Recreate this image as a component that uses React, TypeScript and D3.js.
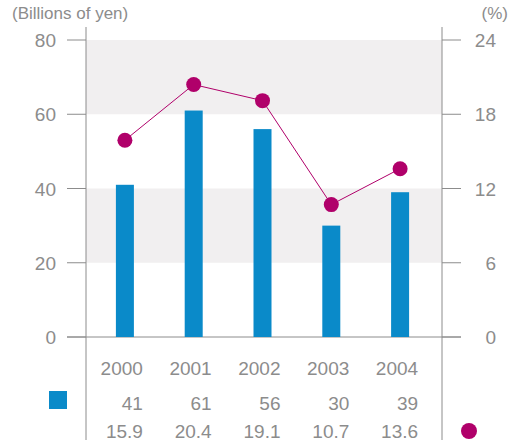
import React from 'react'
import * as d3 from 'd3'

const years = ['2000', '2001', '2002', '2003', '2004']
const amounts = [41, 61, 56, 30, 39]
const ratios = [15.9, 20.4, 19.1, 10.7, 13.6]
const leftTicks = [0, 20, 40, 60, 80]
const rightTicks = [0, 6, 12, 18, 24]
const bands: [number, number][] = [[20, 40], [60, 80]]

const FONT = '"Liberation Sans Narrow", "Liberation Sans", sans-serif'
const GREY = '#8c8c8c'
const BLUE = '#0a8ac9'
const MAGENTA = '#b0006a'

const App: React.FC = () => {
  const width = 517
  const height = 447
  const left = 86
  const right = 442

  const x = d3.scaleBand<string>().domain(years).range([90.5, 434.5])
  const yL = d3.scaleLinear().domain([0, 80]).range([337, 40])
  const yR = d3.scaleLinear().domain([0, 24]).range([337, 40])
  const cx = (yr: string) => (x(yr) ?? 0) + x.bandwidth() / 2
  const barW = 18

  const line = d3.line<number>()
    .x((_, i) => cx(years[i]))
    .y(d => yR(d))

  return (
    <svg width={width} height={height} style={{ position: 'absolute', left: 0, top: 0 }}>
      {bands.map(([a, b]) => (
        <rect key={a} x={left} y={yL(b)} width={right - left} height={yL(a) - yL(b)} fill="#f1eff0" />
      ))}

      {/* axes */}
      <line x1={left} x2={left} y1={27} y2={440} stroke={GREY} strokeWidth={1} />
      <line x1={right} x2={right} y1={27} y2={440} stroke={GREY} strokeWidth={1} />
      <line x1={67} x2={461} y1={yL(0)} y2={yL(0)} stroke={GREY} strokeWidth={1} />
      {leftTicks.map(t => (
        <g key={'l' + t}>
          <line x1={67} x2={left} y1={yL(t)} y2={yL(t)} stroke={GREY} strokeWidth={1} />
          <text x={56} y={yL(t) + 7} textAnchor="end" fontFamily={FONT} fontSize={19} fill={GREY}>{t}</text>
        </g>
      ))}
      {rightTicks.map(t => (
        <g key={'r' + t}>
          <line x1={right} x2={461} y1={yR(t)} y2={yR(t)} stroke={GREY} strokeWidth={1} />
          <text x={496} y={yR(t) + 7} textAnchor="end" fontFamily={FONT} fontSize={19} fill={GREY}>{t}</text>
        </g>
      ))}
      <text x={12} y={19} fontFamily={FONT} fontSize={17} fill={GREY}>(Billions of yen)</text>
      <text x={508} y={19} textAnchor="end" fontFamily={FONT} fontSize={17} fill={GREY}>(%)</text>

      {/* bars */}
      {years.map((yr, i) => (
        <rect key={yr} x={cx(yr) - barW / 2} y={yL(amounts[i])} width={barW}
          height={yL(0) - yL(amounts[i])} fill={BLUE} />
      ))}

      {/* ratio line */}
      <path d={line(ratios) ?? ''} fill="none" stroke={MAGENTA} strokeWidth={1} />
      {ratios.map((r, i) => (
        <circle key={i} cx={cx(years[i])} cy={yR(r)} r={7.5} fill={MAGENTA} />
      ))}

      {/* table */}
      {years.map((yr, i) => (
        <g key={'t' + yr} fontFamily={FONT} fontSize={19} fill={GREY} textAnchor="end">
          <text x={cx(yr) + 18} y={375}>{yr}</text>
          <text x={cx(yr) + 18} y={410}>{amounts[i]}</text>
          <text x={cx(yr) + 18} y={438}>{ratios[i].toFixed(1)}</text>
        </g>
      ))}
      <rect x={49} y={391} width={18} height={18} fill={BLUE} />
      <circle cx={469} cy={431} r={8} fill={MAGENTA} />
    </svg>
  )
}

export default App
